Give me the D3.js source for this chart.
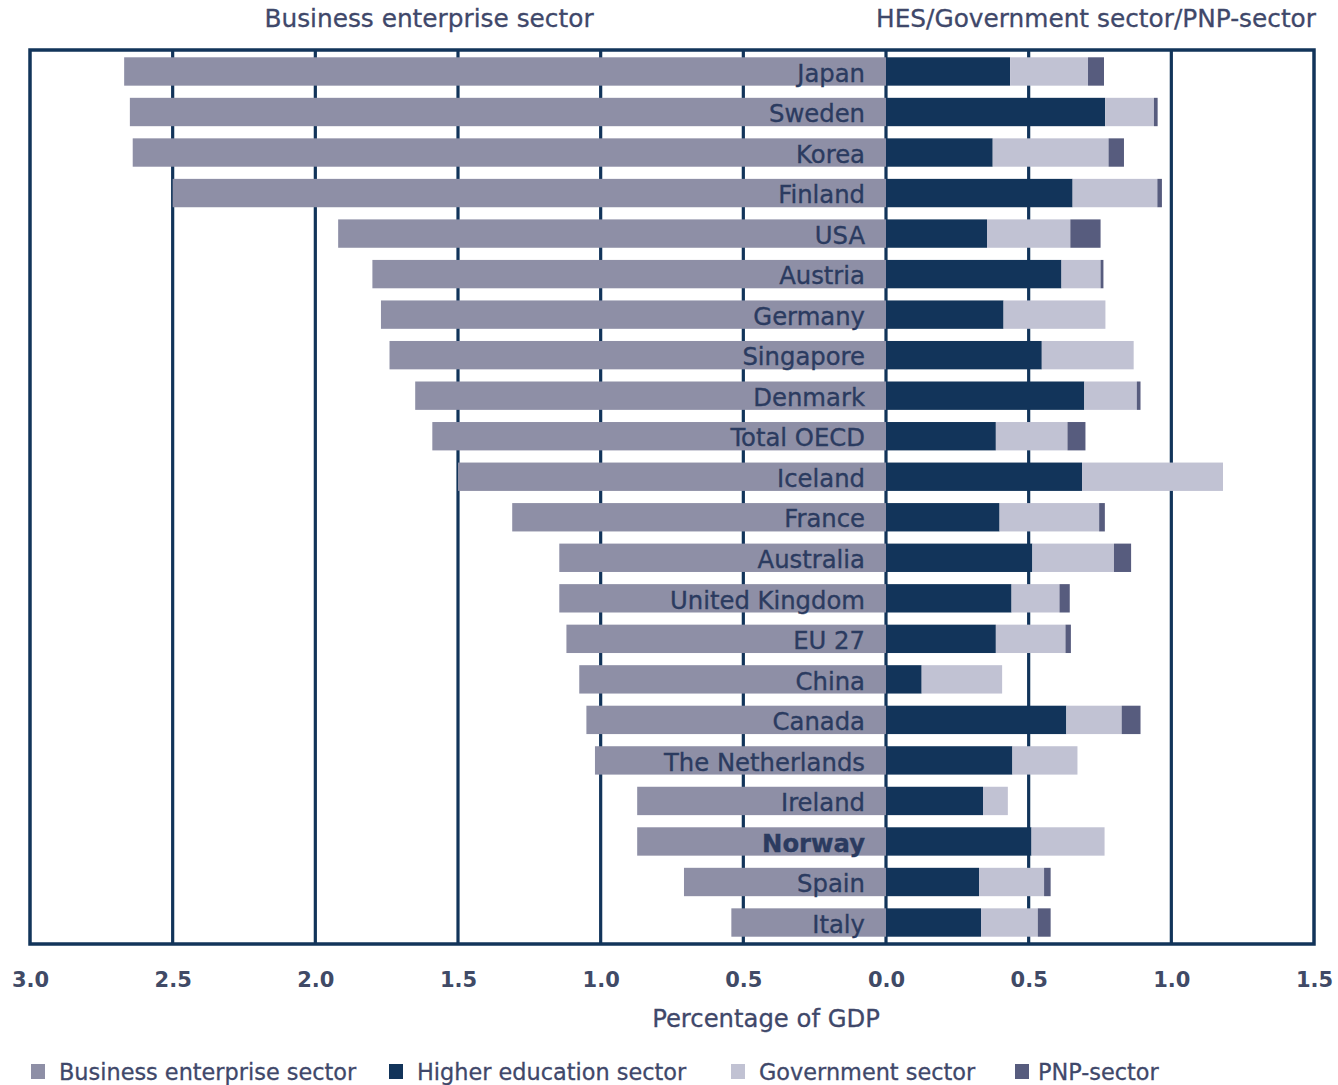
<!DOCTYPE html>
<html>
<head>
<meta charset="utf-8">
<script src="https://cdn.jsdelivr.net/npm/d3@7"></script>
<style>
  html, body { margin: 0; padding: 0; background: #ffffff; }
  svg { display: block; }
  text { font-family: "DejaVu Sans", Verdana, sans-serif; }
</style>
</head>
<body>
<svg id="chart" width="1338" height="1085"></svg>
<script>
// R&D expenditure by performing sector, percentage of GDP
const countries = ["Japan", "Sweden", "Korea", "Finland", "USA", "Austria", "Germany",
  "Singapore", "Denmark", "Total OECD", "Iceland", "France", "Australia", "United Kingdom",
  "EU 27", "China", "Canada", "The Netherlands", "Ireland", "Norway", "Spain", "Italy"];

const business = [2.67, 2.65, 2.64, 2.50, 1.92, 1.80, 1.77, 1.74, 1.65, 1.59, 1.50, 1.31,
  1.145, 1.145, 1.12, 1.075, 1.05, 1.02, 0.872, 0.872, 0.708, 0.542];
const higherEducation = [0.435, 0.768, 0.374, 0.654, 0.354, 0.615, 0.412, 0.546, 0.695, 0.385,
  0.687, 0.398, 0.513, 0.44, 0.385, 0.125, 0.632, 0.443, 0.34, 0.51, 0.326, 0.333];
const government = [0.273, 0.171, 0.406, 0.297, 0.292, 0.137, 0.357, 0.322, 0.184, 0.251,
  0.494, 0.349, 0.286, 0.168, 0.244, 0.282, 0.194, 0.228, 0.087, 0.256, 0.228, 0.199];
const pnp = [0.056, 0.013, 0.054, 0.016, 0.106, 0.010, 0, 0, 0.013, 0.063,
  0, 0.02, 0.06, 0.036, 0.019, 0, 0.066, 0, 0, 0, 0.023, 0.045];

const tickValues = [-3, -2.5, -2, -1.5, -1, -0.5, 0, 0.5, 1, 1.5];
const gridValues = [-2.5, -2, -1.5, -1, -0.5, 0, 0.5, 1];
const boldCountries = ["Norway"];

const legendItems = [
  { label: "Business enterprise sector", key: "business" },
  { label: "Higher education sector", key: "hes" },
  { label: "Government sector", key: "gov" },
  { label: "PNP-sector", key: "pnp" }
];

const colors = {
  business: "#8e8fa6",
  hes: "#12345a",
  gov: "#c1c2d3",
  pnp: "#575c7e"
};
const lineColor = "#12345a";
const textColor = "#2b3b60";
const titleColor = "#3f486a";

const svg = d3.select("#chart");
const plot = { left: 30, right: 1314, top: 50, bottom: 944 };

const x = d3.scaleLinear().domain([-3, 1.5]).range([plot.left, plot.right]);
const y = d3.scaleBand().domain(countries).range([plot.top, plot.bottom])
  .paddingInner(0.3).paddingOuter(0.18);

// stacked rows: business extends left of zero, the other sectors stack to the right
const rows = countries.map((c, i) => ({
  country: c,
  segments: [
    { key: "business", x0: -business[i], x1: 0 },
    { key: "hes", x0: 0, x1: higherEducation[i] },
    { key: "gov", x0: higherEducation[i], x1: higherEducation[i] + government[i] },
    { key: "pnp", x0: higherEducation[i] + government[i],
      x1: higherEducation[i] + government[i] + pnp[i] }
  ]
}));

// vertical gridlines (behind bars)
svg.append("g").selectAll("line").data(gridValues).join("line")
  .attr("x1", d => x(d)).attr("x2", d => x(d))
  .attr("y1", plot.top).attr("y2", plot.bottom)
  .attr("stroke", lineColor)
  .attr("stroke-width", 3.2);

// bars
const rowG = svg.append("g").selectAll("g").data(rows).join("g")
  .attr("transform", d => `translate(0,${y(d.country)})`);

rowG.selectAll("rect").data(d => d.segments.filter(s => s.x1 > s.x0)).join("rect")
  .attr("x", s => x(s.x0))
  .attr("width", s => x(s.x1) - x(s.x0))
  .attr("y", 0)
  .attr("height", y.bandwidth())
  .attr("fill", s => colors[s.key]);

// country labels inside the business bars
rowG.append("text")
  .attr("x", x(0) - 21)
  .attr("y", y.bandwidth() / 2)
  .attr("dy", "0.42em")
  .attr("text-anchor", "end")
  .attr("font-size", 24.3)
  .attr("font-weight", d => boldCountries.includes(d.country) ? "bold" : "normal")
  .attr("fill", textColor)
  .attr("stroke", textColor)
  .attr("stroke-width", 0.35)
  .text(d => d.country);

// plot frame
svg.append("rect")
  .attr("x", plot.left).attr("y", plot.top)
  .attr("width", plot.right - plot.left).attr("height", plot.bottom - plot.top)
  .attr("fill", "none").attr("stroke", lineColor).attr("stroke-width", 3.5);

// bottom axis: absolute values on both sides of zero
const axis = d3.axisBottom(x).tickValues(tickValues)
  .tickFormat(d => d3.format(".1f")(Math.abs(d)))
  .tickSize(0).tickPadding(0);
const axisG = svg.append("g").attr("transform", `translate(0,${plot.bottom})`).call(axis);
axisG.select(".domain").remove();
axisG.selectAll("text")
  .attr("y", 43).attr("dy", 0)
  .attr("font-size", 21).attr("font-weight", "bold")
  .attr("font-family", "'DejaVu Sans', Verdana, sans-serif")
  .attr("fill", "#404a66");

// axis title
svg.append("text")
  .attr("x", 766).attr("y", 1027)
  .attr("text-anchor", "middle")
  .attr("font-size", 24.3)
  .attr("fill", titleColor)
  .attr("stroke", titleColor)
  .attr("stroke-width", 0.3)
  .text("Percentage of GDP");

// side headings
const headings = svg.append("g")
  .attr("font-size", 24.8)
  .attr("fill", titleColor)
  .attr("stroke", titleColor)
  .attr("stroke-width", 0.3);
headings.append("text")
  .attr("x", 429).attr("y", 27)
  .attr("text-anchor", "middle")
  .text("Business enterprise sector");
headings.append("text")
  .attr("x", 1316).attr("y", 27)
  .attr("text-anchor", "end")
  .text("HES/Government sector/PNP-sector");

// legend
const legendX = [31, 389, 731, 1015];
const legendG = svg.append("g").selectAll("g").data(legendItems).join("g")
  .attr("transform", (d, i) => `translate(${legendX[i]},1064)`);
legendG.append("rect")
  .attr("x", 0).attr("y", 0).attr("width", 14).attr("height", 15)
  .attr("fill", d => colors[d.key]);
legendG.append("text")
  .attr("x", d => d.key === "pnp" ? 23 : 28).attr("y", 16)
  .attr("font-size", 22.4)
  .attr("fill", titleColor)
  .attr("stroke", titleColor)
  .attr("stroke-width", 0.3)
  .text(d => d.label);
</script>
</body>
</html>
